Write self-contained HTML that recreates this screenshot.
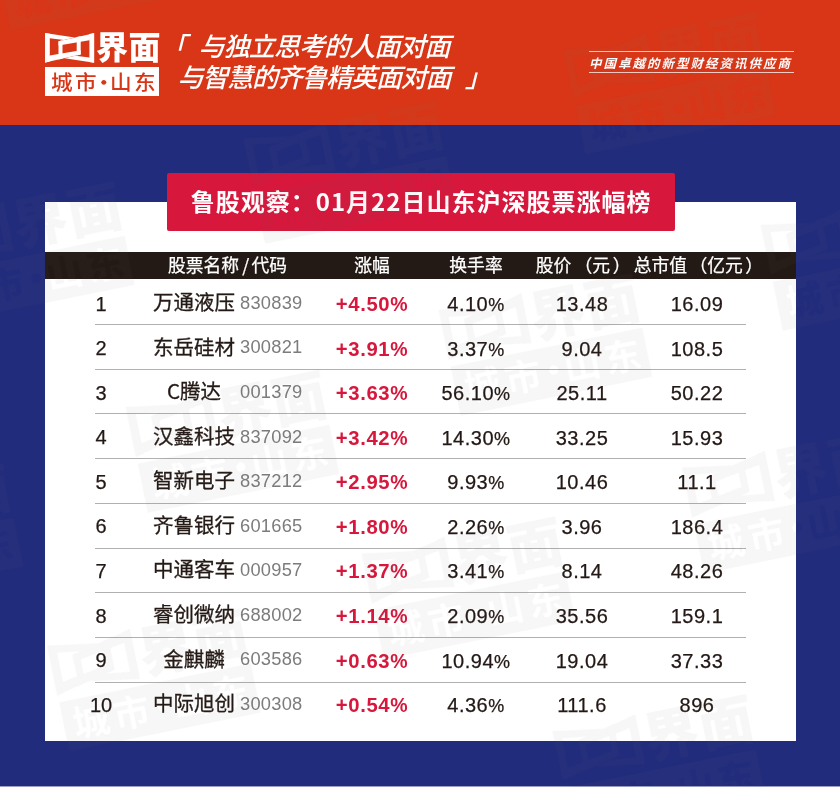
<!DOCTYPE html>
<html lang="zh-CN">
<head>
<meta charset="utf-8">
<title>鲁股观察：01月22日山东沪深股票涨幅榜</title>
<style>
html,body{margin:0;padding:0;}
body{width:840px;height:787px;overflow:hidden;position:relative;background:#222c7c;
  font-family:"Liberation Sans","Noto Sans CJK SC",sans-serif;}
.cj{font-family:"Noto Sans CJK SC","Liberation Sans",sans-serif;}
#top{position:absolute;left:0;top:0;width:840px;height:124.7px;background:#d93617;}
#blue{position:absolute;left:0;top:124.7px;width:840px;height:662.3px;background:#222c7c;}
#foot{position:absolute;left:0;top:786px;width:840px;height:1px;background:#9a9fc4;}
#card{position:absolute;left:45px;top:202px;width:751px;height:539px;background:#fff;}
#banner{position:absolute;left:167.2px;top:172.9px;width:507.8px;height:58.6px;background:#d7173c;border-radius:2px;
  color:#fff;font-family:"Noto Sans CJK SC","Liberation Sans",sans-serif;font-weight:700;font-size:24px;
  line-height:56px;text-align:center;letter-spacing:1px;white-space:nowrap;}
#thead{position:absolute;left:45px;top:251.5px;width:751px;height:27.6px;background:#231a15;color:#fff;
  font-family:"Noto Sans CJK SC","Liberation Sans",sans-serif;font-size:17.8px;line-height:24.8px;letter-spacing:0;-webkit-text-stroke:0.25px #fff;white-space:nowrap;}
#thead span{position:absolute;top:0;transform:translateX(-50%);}
#thead u{text-decoration:none;}
.row{position:absolute;left:0;width:840px;height:44.57px;color:#231815;
  font-family:"Liberation Sans","Noto Sans CJK SC",sans-serif;font-size:20px;line-height:44.57px;white-space:nowrap;}
.row .c{position:absolute;top:3.0px;transform:translateX(-50%);}
.row .rk{left:101px;top:2.6px;-webkit-text-stroke:0.25px #231815;}
.row .nm{left:194px;top:0;font-family:"Noto Sans CJK SC","Liberation Sans",sans-serif;font-size:20.5px;font-weight:400;-webkit-text-stroke:0.3px #2a201a;}
.row .cd{position:absolute;top:1.8px;left:240px;color:#7c7c7c;font-size:18.3px;letter-spacing:0.25px;}
.row .pc{left:372px;color:#d7173c;font-weight:700;letter-spacing:0.6px;font-size:20.3px}
.row b{font-weight:inherit;font-size:18px;}
.row .pc b{font-size:19.5px;}
.row .tr{left:476px;letter-spacing:0.5px;-webkit-text-stroke:0.25px #231815;}
.row .pr{left:582px;letter-spacing:0.5px;-webkit-text-stroke:0.25px #231815;}
.row .mv{left:697px;letter-spacing:0.5px;-webkit-text-stroke:0.25px #231815;}
.ln{position:absolute;left:95.2px;width:650.6px;height:1px;background:#b0b0b0;}
/* logo */
#logo-txt{position:absolute;left:96px;top:23px;color:#fff;font-family:"Noto Sans CJK SC",sans-serif;font-weight:900;
  font-size:32px;line-height:44px;white-space:nowrap;letter-spacing:0.5px;}
#citybox{position:absolute;left:45.4px;top:66.8px;width:113.8px;height:29.1px;background:#fff;color:#d93617;
  font-family:"Noto Sans CJK SC",sans-serif;font-weight:500;font-size:20px;line-height:29px;white-space:nowrap;}
#citybox span{position:absolute;top:0;transform:scaleX(1.08);transform-origin:0 0;}
#slogan{position:absolute;left:0;top:27.4px;color:#fff;font-family:"Noto Sans CJK SC",sans-serif;font-weight:500;
  font-size:26px;line-height:36px;font-style:italic;letter-spacing:-1.3px;white-space:nowrap;}
#slogan span{position:absolute;}
#tag{position:absolute;left:589px;top:51.3px;width:205px;height:21.7px;border-top:1px solid rgba(255,255,255,.75);border-bottom:1px solid rgba(255,255,255,.75);
  color:#fff;font-family:"Noto Sans CJK SC",sans-serif;font-weight:700;font-style:italic;font-size:12.5px;line-height:21px;letter-spacing:2px;white-space:nowrap;box-sizing:border-box;}
</style>
</head>
<body>
<div id="top"></div>
<div id="blue"></div>
<div id="foot"></div>

<svg id="logo" style="position:absolute;left:40px;top:28px" width="60" height="40" viewBox="40 28 60 40" fill="#fff">
  <polygon points="45,33 49.8,33.74 49.8,61.6 45,62.7"/>
  <polygon points="45,33 74.6,37.56 63.9,39.96 49.8,38.2"/>
  <polygon points="94.2,33.2 58.5,41.2 58.5,45.5 89.4,40.2"/>
  <polygon points="58.5,41.2 62.5,40.3 62.5,58.6 58.5,59.5"/>
  <polygon points="94.2,62.7 89.4,61.96 89.4,34.1 94.2,33.0"/>
  <polygon points="94.2,62.7 64.6,58.14 75.3,55.74 89.4,57.5"/>
  <polygon points="45.0,62.5 80.7,54.5 80.7,50.2 49.8,55.5"/>
  <polygon points="80.7,54.5 76.7,55.4 76.7,37.1 80.7,36.2"/>
</svg>
<div id="logo-txt">界面</div>
<div id="citybox"><span style="left:5.6px;letter-spacing:2.2px">城市</span><span style="left:47.2px">·</span><span style="left:64.4px;letter-spacing:2.2px">山东</span></div>
<div id="slogan">
  <span id="sq1" style="left:160.5px;top:-0.5px">「</span>
  <span id="sl1" style="left:198.6px;top:0;letter-spacing:-0.9px">与独立思考的人面对面</span>
  <span id="sl2" style="left:177.5px;top:31px;letter-spacing:-1.2px">与智慧的齐鲁精英面对面</span>
  <span id="sq2" style="left:465px;top:31px">」</span>
</div>
<div id="tag"><span style="position:absolute;left:0px;top:0">中国卓越的新型财经资讯供应商</span></div>

<div id="card"></div>
<div id="banner">鲁股观察：01月22日山东沪深股票涨幅榜</div>
<div id="thead">
  <span style="left:182.5px">股票名称<u style="margin:0 2.2px 0 3.2px">/</u>代码</span>
  <span style="left:327px">涨幅</span>
  <span style="left:431px">换手率</span>
  <span style="left:538.2px">股价<u style="margin-left:3.2px">（</u>元<u style="margin-left:2.7px">）</u></span>
  <span style="left:653.3px">总市值<u style="margin-left:2.4px">（</u>亿元<u style="margin-left:2.4px">）</u></span>
</div>
<div id="tbody">
  <div class="row" style="top:279.00px">
    <span class="c rk">1</span>
    <span class="c nm">万通液压</span>
    <span class="cd">830839</span>
    <span class="c pc">+4.50<b>%</b></span>
    <span class="c tr">4.10<b>%</b></span>
    <span class="c pr">13.48</span>
    <span class="c mv">16.09</span>
    
  </div>
  <div class="row" style="top:323.57px">
    <span class="c rk">2</span>
    <span class="c nm">东岳硅材</span>
    <span class="cd">300821</span>
    <span class="c pc">+3.91<b>%</b></span>
    <span class="c tr">3.37<b>%</b></span>
    <span class="c pr">9.04</span>
    <span class="c mv">108.5</span>
    
  </div>
  <div class="row" style="top:368.14px">
    <span class="c rk">3</span>
    <span class="c nm">C腾达</span>
    <span class="cd">001379</span>
    <span class="c pc">+3.63<b>%</b></span>
    <span class="c tr">56.10<b>%</b></span>
    <span class="c pr">25.11</span>
    <span class="c mv">50.22</span>
    
  </div>
  <div class="row" style="top:412.71px">
    <span class="c rk">4</span>
    <span class="c nm">汉鑫科技</span>
    <span class="cd">837092</span>
    <span class="c pc">+3.42<b>%</b></span>
    <span class="c tr">14.30<b>%</b></span>
    <span class="c pr">33.25</span>
    <span class="c mv">15.93</span>
    
  </div>
  <div class="row" style="top:457.28px">
    <span class="c rk">5</span>
    <span class="c nm">智新电子</span>
    <span class="cd">837212</span>
    <span class="c pc">+2.95<b>%</b></span>
    <span class="c tr">9.93<b>%</b></span>
    <span class="c pr">10.46</span>
    <span class="c mv">11.1</span>
    
  </div>
  <div class="row" style="top:501.85px">
    <span class="c rk">6</span>
    <span class="c nm">齐鲁银行</span>
    <span class="cd">601665</span>
    <span class="c pc">+1.80<b>%</b></span>
    <span class="c tr">2.26<b>%</b></span>
    <span class="c pr">3.96</span>
    <span class="c mv">186.4</span>
    
  </div>
  <div class="row" style="top:546.42px">
    <span class="c rk">7</span>
    <span class="c nm">中通客车</span>
    <span class="cd">000957</span>
    <span class="c pc">+1.37<b>%</b></span>
    <span class="c tr">3.41<b>%</b></span>
    <span class="c pr">8.14</span>
    <span class="c mv">48.26</span>
    
  </div>
  <div class="row" style="top:590.99px">
    <span class="c rk">8</span>
    <span class="c nm">睿创微纳</span>
    <span class="cd">688002</span>
    <span class="c pc">+1.14<b>%</b></span>
    <span class="c tr">2.09<b>%</b></span>
    <span class="c pr">35.56</span>
    <span class="c mv">159.1</span>
    
  </div>
  <div class="row" style="top:635.56px">
    <span class="c rk">9</span>
    <span class="c nm">金麒麟</span>
    <span class="cd">603586</span>
    <span class="c pc">+0.63<b>%</b></span>
    <span class="c tr">10.94<b>%</b></span>
    <span class="c pr">19.04</span>
    <span class="c mv">37.33</span>
    
  </div>
  <div class="row" style="top:680.13px">
    <span class="c rk">10</span>
    <span class="c nm">中际旭创</span>
    <span class="cd">300308</span>
    <span class="c pc">+0.54<b>%</b></span>
    <span class="c tr">4.36<b>%</b></span>
    <span class="c pr">111.6</span>
    <span class="c mv">896</span>
    
  </div>
  <i class="ln" style="top:323.90px"></i>
  <i class="ln" style="top:368.65px"></i>
  <i class="ln" style="top:413.40px"></i>
  <i class="ln" style="top:458.15px"></i>
  <i class="ln" style="top:502.90px"></i>
  <i class="ln" style="top:547.65px"></i>
  <i class="ln" style="top:592.40px"></i>
  <i class="ln" style="top:637.15px"></i>
  <i class="ln" style="top:681.90px"></i>
</div>
<svg id="wm" width="840" height="787" viewBox="0 0 840 787" style="position:absolute;left:0;top:0;pointer-events:none" font-family="'Noto Sans CJK SC',sans-serif">
  <defs>
    <mask id="km" maskUnits="userSpaceOnUse" x="40" y="60" width="125" height="40">
      <rect x="40" y="60" width="125" height="40" fill="#fff"/>
      <g font-size="21.5" font-weight="700" fill="#000" letter-spacing="2.5"><text x="50.7" y="89">城市</text><text x="93" y="89">·</text><text x="109.8" y="89">山东</text></g>
    </mask>
  </defs>
  <g fill="#676767" opacity="0.058">
  <g transform="translate(125.7 407.0) rotate(-11.5) scale(1.716) translate(-45 -33)"><polygon points="45,33 49.8,33.74 49.8,61.6 45,62.7"/><polygon points="45,33 74.6,37.56 63.9,39.96 49.8,38.2"/><polygon points="94.2,33.2 58.5,41.2 58.5,45.5 89.4,40.2"/><polygon points="58.5,41.2 62.5,40.3 62.5,58.6 58.5,59.5"/><polygon points="94.2,62.7 89.4,61.96 89.4,34.1 94.2,33.0"/><polygon points="94.2,62.7 64.6,58.14 75.3,55.74 89.4,57.5"/><polygon points="45.0,62.5 80.7,54.5 80.7,50.2 49.8,55.5"/><polygon points="80.7,54.5 76.7,55.4 76.7,37.1 80.7,36.2"/><text x="96.5" y="59.6" font-size="32" font-weight="900" letter-spacing="0.5">界面</text><rect x="45.4" y="66.8" width="113.8" height="29.1" mask="url(#km)"/></g>
  <g transform="translate(438.6 310.0) rotate(-11.5) scale(1.716) translate(-45 -33)"><polygon points="45,33 49.8,33.74 49.8,61.6 45,62.7"/><polygon points="45,33 74.6,37.56 63.9,39.96 49.8,38.2"/><polygon points="94.2,33.2 58.5,41.2 58.5,45.5 89.4,40.2"/><polygon points="58.5,41.2 62.5,40.3 62.5,58.6 58.5,59.5"/><polygon points="94.2,62.7 89.4,61.96 89.4,34.1 94.2,33.0"/><polygon points="94.2,62.7 64.6,58.14 75.3,55.74 89.4,57.5"/><polygon points="45.0,62.5 80.7,54.5 80.7,50.2 49.8,55.5"/><polygon points="80.7,54.5 76.7,55.4 76.7,37.1 80.7,36.2"/><text x="96.5" y="59.6" font-size="32" font-weight="900" letter-spacing="0.5">界面</text><rect x="45.4" y="66.8" width="113.8" height="29.1" mask="url(#km)"/></g>
  <g transform="translate(760.7 225.0) rotate(-11.5) scale(1.716) translate(-45 -33)"><polygon points="45,33 49.8,33.74 49.8,61.6 45,62.7"/><polygon points="45,33 74.6,37.56 63.9,39.96 49.8,38.2"/><polygon points="94.2,33.2 58.5,41.2 58.5,45.5 89.4,40.2"/><polygon points="58.5,41.2 62.5,40.3 62.5,58.6 58.5,59.5"/><polygon points="94.2,62.7 89.4,61.96 89.4,34.1 94.2,33.0"/><polygon points="94.2,62.7 64.6,58.14 75.3,55.74 89.4,57.5"/><polygon points="45.0,62.5 80.7,54.5 80.7,50.2 49.8,55.5"/><polygon points="80.7,54.5 76.7,55.4 76.7,37.1 80.7,36.2"/><text x="96.5" y="59.6" font-size="32" font-weight="900" letter-spacing="0.5">界面</text><rect x="45.4" y="66.8" width="113.8" height="29.1" mask="url(#km)"/></g>
  <g transform="translate(-190.0 500.0) rotate(-11.5) scale(1.716) translate(-45 -33)"><polygon points="45,33 49.8,33.74 49.8,61.6 45,62.7"/><polygon points="45,33 74.6,37.56 63.9,39.96 49.8,38.2"/><polygon points="94.2,33.2 58.5,41.2 58.5,45.5 89.4,40.2"/><polygon points="58.5,41.2 62.5,40.3 62.5,58.6 58.5,59.5"/><polygon points="94.2,62.7 89.4,61.96 89.4,34.1 94.2,33.0"/><polygon points="94.2,62.7 64.6,58.14 75.3,55.74 89.4,57.5"/><polygon points="45.0,62.5 80.7,54.5 80.7,50.2 49.8,55.5"/><polygon points="80.7,54.5 76.7,55.4 76.7,37.1 80.7,36.2"/><text x="96.5" y="59.6" font-size="32" font-weight="900" letter-spacing="0.5">界面</text><rect x="45.4" y="66.8" width="113.8" height="29.1" mask="url(#km)"/></g>
  <g transform="translate(47.1 645.7) rotate(-11.5) scale(1.716) translate(-45 -33)"><polygon points="45,33 49.8,33.74 49.8,61.6 45,62.7"/><polygon points="45,33 74.6,37.56 63.9,39.96 49.8,38.2"/><polygon points="94.2,33.2 58.5,41.2 58.5,45.5 89.4,40.2"/><polygon points="58.5,41.2 62.5,40.3 62.5,58.6 58.5,59.5"/><polygon points="94.2,62.7 89.4,61.96 89.4,34.1 94.2,33.0"/><polygon points="94.2,62.7 64.6,58.14 75.3,55.74 89.4,57.5"/><polygon points="45.0,62.5 80.7,54.5 80.7,50.2 49.8,55.5"/><polygon points="80.7,54.5 76.7,55.4 76.7,37.1 80.7,36.2"/><text x="96.5" y="59.6" font-size="32" font-weight="900" letter-spacing="0.5">界面</text><rect x="45.4" y="66.8" width="113.8" height="29.1" mask="url(#km)"/></g>
  <g transform="translate(361.7 553.6) rotate(-11.5) scale(1.716) translate(-45 -33)"><polygon points="45,33 49.8,33.74 49.8,61.6 45,62.7"/><polygon points="45,33 74.6,37.56 63.9,39.96 49.8,38.2"/><polygon points="94.2,33.2 58.5,41.2 58.5,45.5 89.4,40.2"/><polygon points="58.5,41.2 62.5,40.3 62.5,58.6 58.5,59.5"/><polygon points="94.2,62.7 89.4,61.96 89.4,34.1 94.2,33.0"/><polygon points="94.2,62.7 64.6,58.14 75.3,55.74 89.4,57.5"/><polygon points="45.0,62.5 80.7,54.5 80.7,50.2 49.8,55.5"/><polygon points="80.7,54.5 76.7,55.4 76.7,37.1 80.7,36.2"/><text x="96.5" y="59.6" font-size="32" font-weight="900" letter-spacing="0.5">界面</text><rect x="45.4" y="66.8" width="113.8" height="29.1" mask="url(#km)"/></g>
  <g transform="translate(682.0 467.7) rotate(-11.5) scale(1.716) translate(-45 -33)"><polygon points="45,33 49.8,33.74 49.8,61.6 45,62.7"/><polygon points="45,33 74.6,37.56 63.9,39.96 49.8,38.2"/><polygon points="94.2,33.2 58.5,41.2 58.5,45.5 89.4,40.2"/><polygon points="58.5,41.2 62.5,40.3 62.5,58.6 58.5,59.5"/><polygon points="94.2,62.7 89.4,61.96 89.4,34.1 94.2,33.0"/><polygon points="94.2,62.7 64.6,58.14 75.3,55.74 89.4,57.5"/><polygon points="45.0,62.5 80.7,54.5 80.7,50.2 49.8,55.5"/><polygon points="80.7,54.5 76.7,55.4 76.7,37.1 80.7,36.2"/><text x="96.5" y="59.6" font-size="32" font-weight="900" letter-spacing="0.5">界面</text><rect x="45.4" y="66.8" width="113.8" height="29.1" mask="url(#km)"/></g>
  <g transform="translate(552.4 731.2) rotate(-11.5) scale(1.716) translate(-45 -33)"><polygon points="45,33 49.8,33.74 49.8,61.6 45,62.7"/><polygon points="45,33 74.6,37.56 63.9,39.96 49.8,38.2"/><polygon points="94.2,33.2 58.5,41.2 58.5,45.5 89.4,40.2"/><polygon points="58.5,41.2 62.5,40.3 62.5,58.6 58.5,59.5"/><polygon points="94.2,62.7 89.4,61.96 89.4,34.1 94.2,33.0"/><polygon points="94.2,62.7 64.6,58.14 75.3,55.74 89.4,57.5"/><polygon points="45.0,62.5 80.7,54.5 80.7,50.2 49.8,55.5"/><polygon points="80.7,54.5 76.7,55.4 76.7,37.1 80.7,36.2"/><text x="96.5" y="59.6" font-size="32" font-weight="900" letter-spacing="0.5">界面</text><rect x="45.4" y="66.8" width="113.8" height="29.1" mask="url(#km)"/></g>
  <g transform="translate(-79.0 218.0) rotate(-11.5) scale(1.716) translate(-45 -33)"><polygon points="45,33 49.8,33.74 49.8,61.6 45,62.7"/><polygon points="45,33 74.6,37.56 63.9,39.96 49.8,38.2"/><polygon points="94.2,33.2 58.5,41.2 58.5,45.5 89.4,40.2"/><polygon points="58.5,41.2 62.5,40.3 62.5,58.6 58.5,59.5"/><polygon points="94.2,62.7 89.4,61.96 89.4,34.1 94.2,33.0"/><polygon points="94.2,62.7 64.6,58.14 75.3,55.74 89.4,57.5"/><polygon points="45.0,62.5 80.7,54.5 80.7,50.2 49.8,55.5"/><polygon points="80.7,54.5 76.7,55.4 76.7,37.1 80.7,36.2"/><text x="96.5" y="59.6" font-size="32" font-weight="900" letter-spacing="0.5">界面</text><rect x="45.4" y="66.8" width="113.8" height="29.1" mask="url(#km)"/></g>
  <g transform="translate(243.0 138.0) rotate(-11.5) scale(1.716) translate(-45 -33)"><polygon points="45,33 49.8,33.74 49.8,61.6 45,62.7"/><polygon points="45,33 74.6,37.56 63.9,39.96 49.8,38.2"/><polygon points="94.2,33.2 58.5,41.2 58.5,45.5 89.4,40.2"/><polygon points="58.5,41.2 62.5,40.3 62.5,58.6 58.5,59.5"/><polygon points="94.2,62.7 89.4,61.96 89.4,34.1 94.2,33.0"/><polygon points="94.2,62.7 64.6,58.14 75.3,55.74 89.4,57.5"/><polygon points="45.0,62.5 80.7,54.5 80.7,50.2 49.8,55.5"/><polygon points="80.7,54.5 76.7,55.4 76.7,37.1 80.7,36.2"/><text x="96.5" y="59.6" font-size="32" font-weight="900" letter-spacing="0.5">界面</text><rect x="45.4" y="66.8" width="113.8" height="29.1" mask="url(#km)"/></g>
  <g transform="translate(563.0 49.0) rotate(-11.5) scale(1.716) translate(-45 -33)"><polygon points="45,33 49.8,33.74 49.8,61.6 45,62.7"/><polygon points="45,33 74.6,37.56 63.9,39.96 49.8,38.2"/><polygon points="94.2,33.2 58.5,41.2 58.5,45.5 89.4,40.2"/><polygon points="58.5,41.2 62.5,40.3 62.5,58.6 58.5,59.5"/><polygon points="94.2,62.7 89.4,61.96 89.4,34.1 94.2,33.0"/><polygon points="94.2,62.7 64.6,58.14 75.3,55.74 89.4,57.5"/><polygon points="45.0,62.5 80.7,54.5 80.7,50.2 49.8,55.5"/><polygon points="80.7,54.5 76.7,55.4 76.7,37.1 80.7,36.2"/><text x="96.5" y="59.6" font-size="32" font-weight="900" letter-spacing="0.5">界面</text><rect x="45.4" y="66.8" width="113.8" height="29.1" mask="url(#km)"/></g>
  <g transform="translate(-12.0 -75.0) rotate(-11.5) scale(1.716) translate(-45 -33)"><polygon points="45,33 49.8,33.74 49.8,61.6 45,62.7"/><polygon points="45,33 74.6,37.56 63.9,39.96 49.8,38.2"/><polygon points="94.2,33.2 58.5,41.2 58.5,45.5 89.4,40.2"/><polygon points="58.5,41.2 62.5,40.3 62.5,58.6 58.5,59.5"/><polygon points="94.2,62.7 89.4,61.96 89.4,34.1 94.2,33.0"/><polygon points="94.2,62.7 64.6,58.14 75.3,55.74 89.4,57.5"/><polygon points="45.0,62.5 80.7,54.5 80.7,50.2 49.8,55.5"/><polygon points="80.7,54.5 76.7,55.4 76.7,37.1 80.7,36.2"/><text x="96.5" y="59.6" font-size="32" font-weight="900" letter-spacing="0.5">界面</text><rect x="45.4" y="66.8" width="113.8" height="29.1" mask="url(#km)"/></g>
  </g>
</svg>
</body>
</html>
